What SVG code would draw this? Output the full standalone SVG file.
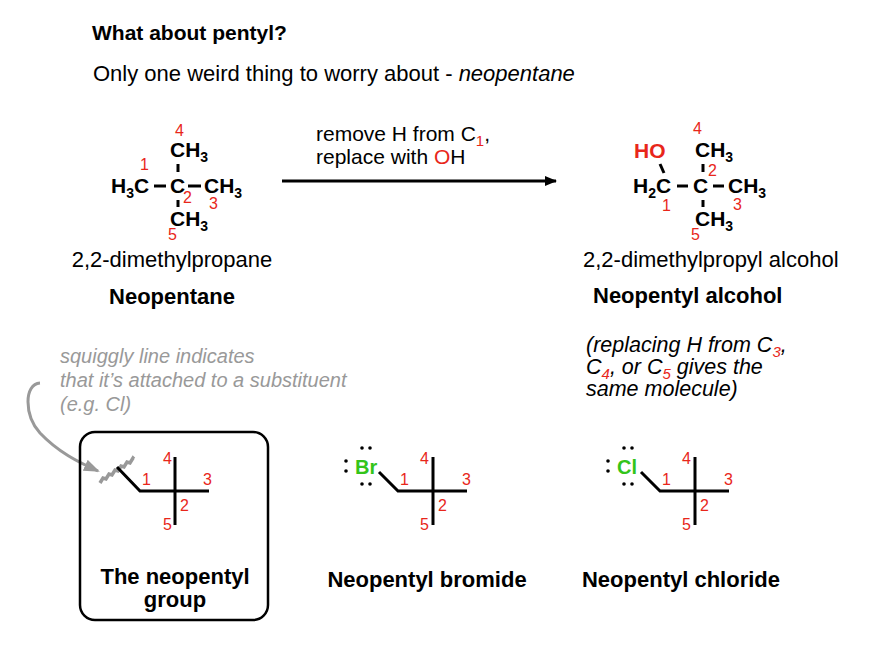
<svg xmlns="http://www.w3.org/2000/svg" width="874" height="648" viewBox="0 0 874 648">
<style>
text{font-family:"Liberation Sans",Arial,sans-serif;font-size:22px;fill:#000}
.b{font-weight:bold}
.m{font-weight:bold;font-size:21px}
.s{font-size:14px}
.r{fill:#e8261a}
.n{fill:#e8261a;font-size:16px}
.g{fill:#999;font-style:italic;font-size:20px}
.i{font-style:italic;font-size:21.5px}
.gr{fill:#33c41a;font-weight:bold;font-size:20px}
.ln{stroke:#000;stroke-width:3;fill:none}
.dot{fill:#000}
</style>
<defs>
<marker id="ah" markerWidth="12" markerHeight="10" refX="11" refY="5" orient="auto" markerUnits="userSpaceOnUse"><path d="M0,0L12,5L0,10z" fill="#000"/></marker>
<marker id="ahg" markerWidth="16" markerHeight="12" refX="14" refY="6" orient="auto" markerUnits="userSpaceOnUse"><path d="M0,0L16,6L0,12z" fill="#999"/></marker>
</defs>
<rect width="874" height="648" fill="#fff"/>
<text x="92" y="40" class="b" style="font-size:21px">What about pentyl?</text>
<text x="93" y="81">Only one weird thing to worry about - <tspan font-style="italic">neopentane</tspan></text>

<g id="neopentane">
<text x="111" y="193" class="m">H<tspan class="s" dy="5">3</tspan><tspan dy="-5">C</tspan></text>
<line x1="154" y1="186" x2="166" y2="186" class="ln" stroke-width="2"/>
<text x="170" y="193" class="m">C</text>
<line x1="188" y1="186" x2="201" y2="186" class="ln" stroke-width="2"/>
<text x="204" y="193" class="m">CH<tspan class="s" dy="5">3</tspan></text>
<text x="170" y="157" class="m">CH<tspan class="s" dy="5">3</tspan></text>
<line x1="178" y1="164" x2="178" y2="172" class="ln" stroke-width="2"/>
<line x1="178" y1="200" x2="178" y2="207" class="ln" stroke-width="2"/>
<text x="170" y="226" class="m">CH<tspan class="s" dy="5">3</tspan></text>
<text x="175" y="136" class="n">4</text>
<text x="140" y="170" class="n">1</text>
<text x="183" y="203" class="n">2</text>
<text x="209" y="209" class="n">3</text>
<text x="168" y="240" class="n">5</text>
<text x="172" y="267" text-anchor="middle">2,2-dimethylpropane</text>
<text x="172" y="304" class="b" text-anchor="middle">Neopentane</text>
</g>

<g id="connectors">
<line x1="282" y1="181" x2="556" y2="181" stroke="#000" stroke-width="3" marker-end="url(#ah)"/>
<path d="M40,383 C24,384 24,415 40,433 C58,452 78,462 98,471" stroke="#999" stroke-width="3" fill="none" marker-end="url(#ahg)"/>
</g>
<g id="arrowlabel">
<text x="316" y="141" style="font-size:21px">remove H from C<tspan class="r" dy="5" style="font-size:15px">1</tspan><tspan dy="-5">,</tspan></text>
<text x="316" y="164" style="font-size:21px">replace with <tspan class="r">O</tspan>H</text>
</g>

<g id="alcohol">
<text x="634" y="158" class="m r">HO</text>
<line x1="660" y1="164" x2="664" y2="173" class="ln" stroke-width="2"/>
<text x="633" y="193" class="m">H<tspan class="s" dy="5">2</tspan><tspan dy="-5">C</tspan></text>
<line x1="677" y1="186" x2="688" y2="186" class="ln" stroke-width="2"/>
<text x="693" y="193" class="m">C</text>
<line x1="713" y1="186" x2="724" y2="186" class="ln" stroke-width="2"/>
<text x="728" y="193" class="m">CH<tspan class="s" dy="5">3</tspan></text>
<text x="695" y="157" class="m">CH<tspan class="s" dy="5">3</tspan></text>
<line x1="703" y1="164" x2="703" y2="172" class="ln" stroke-width="2"/>
<line x1="703" y1="200" x2="703" y2="207" class="ln" stroke-width="2"/>
<text x="695" y="226" class="m">CH<tspan class="s" dy="5">3</tspan></text>
<text x="693" y="134" class="n">4</text>
<text x="708" y="176" class="n">2</text>
<text x="662" y="211" class="n">1</text>
<text x="733" y="210" class="n">3</text>
<text x="691" y="240" class="n">5</text>
<text x="583" y="267">2,2-dimethylpropyl alcohol</text>
<text x="593" y="303" class="b">Neopentyl alcohol</text>
<text x="586" y="352" class="i">(replacing H from C<tspan class="r" dy="5" style="font-size:15px">3</tspan><tspan dy="-5">,</tspan></text>
<text x="586" y="374" class="i">C<tspan class="r" dy="5" style="font-size:15px">4</tspan><tspan dy="-5">, or C</tspan><tspan class="r" dy="5" style="font-size:15px">5</tspan><tspan dy="-5"> gives the</tspan></text>
<text x="586" y="396" class="i">same molecule)</text>
</g>

<g id="note">
<text x="60" y="363" class="g">squiggly line indicates</text>
<text x="60" y="387" class="g">that it’s attached to a substituent</text>
<text x="60" y="411" class="g">(e.g. Cl)</text>
</g>

<g id="group">
<rect x="80" y="432" width="188" height="188" rx="15" fill="none" stroke="#000" stroke-width="2.5"/>
<path d="M100,483 l3,-5 l3,1 l3,-5 l3,1 l3,-5 l3,1 l3,-5 l3,1 l3,-5 l3,1 l3,-5 l1,1" stroke="#999" stroke-width="3.5" fill="none"/>
<path d="M117,467 L140,491 L209,491 M175,457 L175,525" class="ln" stroke-width="2.5"/>
<text x="142" y="485" class="n">1</text>
<text x="163" y="464" class="n">4</text>
<text x="203" y="485" class="n">3</text>
<text x="180" y="511" class="n">2</text>
<text x="163" y="530" class="n">5</text>
<text x="175" y="584" class="b" text-anchor="middle">The neopentyl</text>
<text x="175" y="607" class="b" text-anchor="middle">group</text>
</g>

<g id="bromide">
<text x="355" y="474" class="gr">Br</text>
<circle cx="346" cy="461" r="1.8" class="dot"/><circle cx="346" cy="471" r="1.8" class="dot"/>
<circle cx="362" cy="448" r="1.8" class="dot"/><circle cx="370" cy="448" r="1.8" class="dot"/>
<circle cx="362" cy="484" r="1.8" class="dot"/><circle cx="370" cy="484" r="1.8" class="dot"/>
<path d="M379,472 L398,491 L467,491 M433,457 L433,525" class="ln" stroke-width="2.5"/>
<text x="400" y="485" class="n">1</text>
<text x="420" y="464" class="n">4</text>
<text x="462" y="485" class="n">3</text>
<text x="438" y="511" class="n">2</text>
<text x="420" y="530" class="n">5</text>
<text x="427" y="587" class="b" text-anchor="middle">Neopentyl bromide</text>
</g>

<g id="chloride">
<text x="617" y="474" class="gr">Cl</text>
<circle cx="608" cy="461" r="1.8" class="dot"/><circle cx="608" cy="471" r="1.8" class="dot"/>
<circle cx="624" cy="448" r="1.8" class="dot"/><circle cx="632" cy="448" r="1.8" class="dot"/>
<circle cx="624" cy="484" r="1.8" class="dot"/><circle cx="632" cy="484" r="1.8" class="dot"/>
<path d="M641,472 L660,491 L729,491 M695,457 L695,525" class="ln" stroke-width="2.5"/>
<text x="662" y="485" class="n">1</text>
<text x="682" y="464" class="n">4</text>
<text x="724" y="485" class="n">3</text>
<text x="700" y="511" class="n">2</text>
<text x="682" y="530" class="n">5</text>
<text x="681" y="587" class="b" text-anchor="middle">Neopentyl chloride</text>
</g>
</svg>
